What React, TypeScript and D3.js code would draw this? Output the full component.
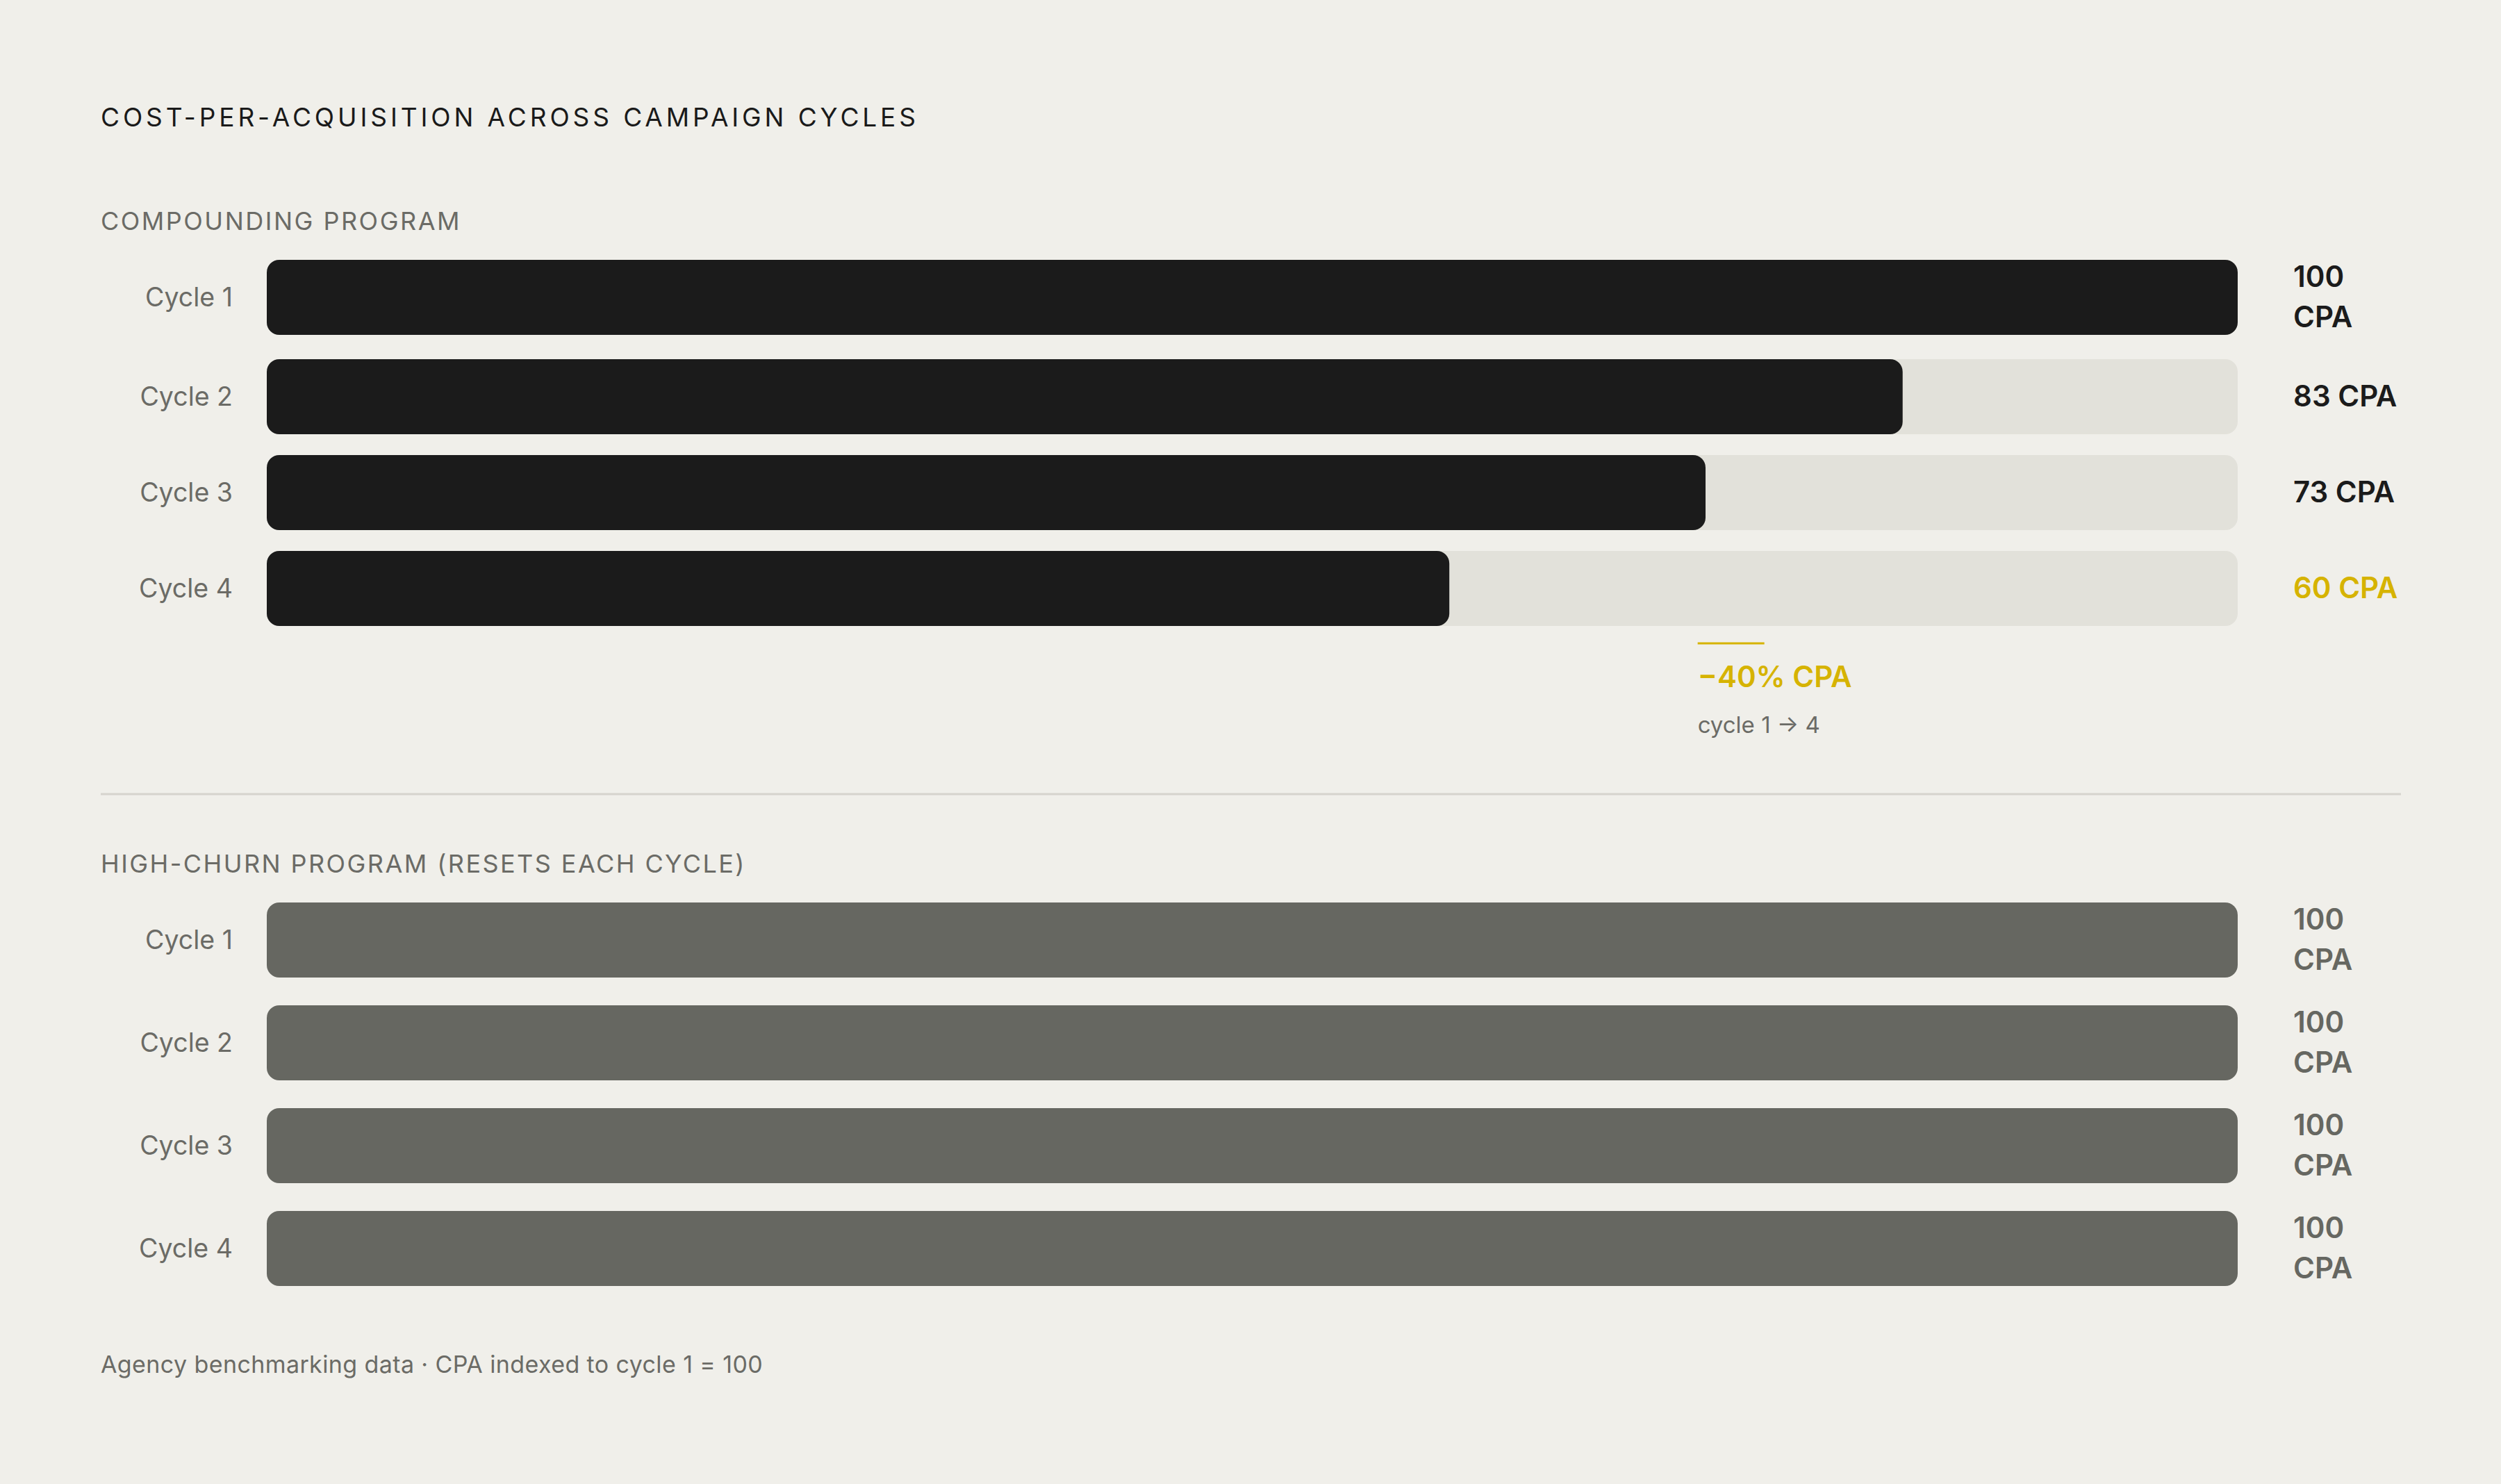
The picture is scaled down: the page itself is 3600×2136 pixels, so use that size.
import React from "react";
import * as d3 from "d3";

const cycles = ["Cycle 1", "Cycle 2", "Cycle 3", "Cycle 4"];
const compoundingCPA = [100, 83, 73, 60];
const churnCPA = [100, 100, 100, 100];
const annotationValue = 72.6;
const annotationText = "−40% CPA";
const annotationSub = "cycle 1 → 4";

const W = 3600;
const H = 2136;
const FONT = "Inter, 'DM Sans', 'Noto Sans', sans-serif";

const BG = "#f0efea";
const TRACK = "#e2e1da";
const DARK = "#1b1b1b";
const GREY = "#666761";
const MUTED = "#6b6b66";
const GOLD = "#d6b300";
const RULE = "#d6d4cd";

const BAR_H = 108;
const LINE_H = 58;
const ROW_GAP = 30;

const x = d3.scaleLinear().domain([0, 100]).range([384, 3221]);

// values with 3 digits wrap onto two lines in the narrow label column
const valueLines = (v: number) => (String(v).length > 2 ? [String(v), "CPA"] : [`${v} CPA`]);

function layoutRows(values: number[], top: number) {
  let y = top;
  return values.map((v, i) => {
    const lines = valueLines(v);
    const h = Math.max(BAR_H, lines.length * LINE_H + 2);
    const row = { i, v, lines, top: y, h, cy: y + h / 2 };
    y += h + ROW_GAP;
    return row;
  });
}

const Section = ({ title, titleLen, headerY, values, fill, valueColor, track }) => {
  const rows = layoutRows(values, headerY + 38);
  return (
    <g>
      <text x={145} y={headerY} fontSize={36} fill={MUTED} letterSpacing="2.5" textLength={titleLen} lengthAdjust="spacing">
        {title}
      </text>
      {rows.map((r) => (
        <g key={r.i}>
          <text x={335} y={r.cy + 13} textAnchor="end" fontSize={37.5} fill={MUTED}>
            {cycles[r.i]}
          </text>
          {track && <rect x={x(0)} y={r.cy - BAR_H / 2} width={x(100) - x(0)} height={BAR_H} rx={18} fill={TRACK} />}
          <rect x={x(0)} y={r.cy - BAR_H / 2} width={x(r.v) - x(0)} height={BAR_H} rx={18} fill={fill} />
          <text x={3301} fontSize={42} fontWeight={600} fill={valueColor(r.i)}>
            {r.lines.map((t, k) => (
              <tspan key={k} x={3301} y={r.lines.length === 1 ? r.cy + 14 : r.cy - 15.5 + k * LINE_H}>
                {t}
              </tspan>
            ))}
          </text>
        </g>
      ))}
    </g>
  );
};

export default function App() {
  const ax = x(annotationValue);
  return (
    <svg width={W} height={H} style={{ position: "absolute", left: 0, top: 0, display: "block" }} fontFamily={FONT}>
      <rect width={W} height={H} fill={BG} />
      <text x={145} y={182} fontSize={37} fill="#1a1a1a" letterSpacing="7" textLength={1180} lengthAdjust="spacing">
        COST-PER-ACQUISITION ACROSS CAMPAIGN CYCLES
      </text>

      <Section
        title="COMPOUNDING PROGRAM"
        titleLen={519}
        headerY={331}
        values={compoundingCPA}
        fill={DARK}
        track={true}
        valueColor={(i) => (i === compoundingCPA.length - 1 ? GOLD : DARK)}
      />

      <line x1={ax} x2={ax + 96} y1={926} y2={926} stroke={GOLD} strokeWidth={3} />
      <text x={ax} y={989} fontSize={42} fontWeight={600} fill={GOLD}>
        {annotationText}
      </text>
      <text x={ax} y={1055} fontSize={33} fill={MUTED}>
        {annotationSub}
      </text>

      <line x1={145} x2={3456} y1={1143} y2={1143} stroke={RULE} strokeWidth={3} />

      <Section
        title="HIGH-CHURN PROGRAM (RESETS EACH CYCLE)"
        titleLen={929}
        headerY={1256}
        values={churnCPA}
        fill={GREY}
        track={false}
        valueColor={() => GREY}
      />

      <text x={145} y={1976} fontSize={34} fill={MUTED} letterSpacing="0.4">
        Agency benchmarking data · CPA indexed to cycle 1 = 100
      </text>
    </svg>
  );
}
